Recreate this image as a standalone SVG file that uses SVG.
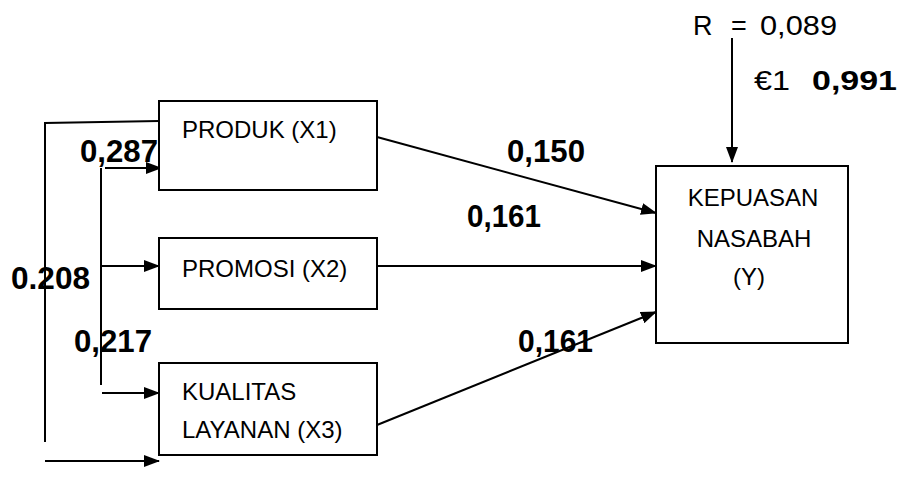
<svg xmlns="http://www.w3.org/2000/svg" width="901" height="482" viewBox="0 0 901 482">
  <style>
    .box { fill: #ffffff; stroke: #000000; stroke-width: 2; }
    .ln { fill: none; stroke: #000000; stroke-width: 2; }
    .lbl { font-family: "Liberation Sans", Arial, sans-serif; font-size: 24px; fill: #000000; }
    .coef { font-family: "Liberation Sans", Arial, sans-serif; font-size: 31px; font-weight: bold; fill: #000000; }
    .top { font-family: "Liberation Sans", Arial, sans-serif; font-size: 27px; fill: #000000; }
  </style>
  <defs>
    <marker id="arrow" markerWidth="16" markerHeight="12" refX="15" refY="6" orient="auto" markerUnits="userSpaceOnUse">
      <path d="M0,0 L16,6 L0,12 Z" fill="#000000"/>
    </marker>
  </defs>

  <!-- path coefficients and residual -->
  <g id="labels">
    <text class="top" x="693" y="35">R</text>
    <text class="top" x="731" y="35">=</text>
    <text class="top" x="760" y="35" textLength="77" lengthAdjust="spacingAndGlyphs">0,089</text>
    <text class="top" x="754" y="90" textLength="36" lengthAdjust="spacingAndGlyphs">€1</text>
    <text class="top" x="812" y="90" font-weight="bold" textLength="85" lengthAdjust="spacingAndGlyphs">0,991</text>
    <text class="coef" x="80" y="162" textLength="78" lengthAdjust="spacingAndGlyphs">0,287</text>
    <text class="coef" x="11" y="289" textLength="79" lengthAdjust="spacingAndGlyphs">0.208</text>
    <text class="coef" x="74" y="352" textLength="78" lengthAdjust="spacingAndGlyphs">0,217</text>
    <text class="coef" x="507" y="162" textLength="78" lengthAdjust="spacingAndGlyphs">0,150</text>
    <text class="coef" x="467" y="227" textLength="74" lengthAdjust="spacingAndGlyphs">0,161</text>
    <text class="coef" x="518" y="352" textLength="75" lengthAdjust="spacingAndGlyphs">0,161</text>
  </g>

  <!-- connectors -->
  <g id="connectors">
    <!-- outer correlation bracket -->
    <polyline class="ln" points="159,121 45,123 45,442"/>
    <line class="ln" x1="45" y1="461" x2="159" y2="461" marker-end="url(#arrow)"/>
    <!-- inner correlation bracket -->
    <line class="ln" x1="101" y1="168" x2="101" y2="385"/>
    <line class="ln" x1="105" y1="168" x2="161" y2="168" marker-end="url(#arrow)"/>
    <line class="ln" x1="101" y1="266" x2="159" y2="266" marker-end="url(#arrow)"/>
    <line class="ln" x1="102" y1="393" x2="159" y2="393" marker-end="url(#arrow)"/>
    <!-- paths to Y -->
    <line class="ln" x1="377" y1="137" x2="656" y2="213" marker-end="url(#arrow)"/>
    <line class="ln" x1="377" y1="266" x2="656" y2="266" marker-end="url(#arrow)"/>
    <line class="ln" x1="377" y1="425" x2="656" y2="312" marker-end="url(#arrow)"/>
    <!-- residual -->
    <line class="ln" x1="732" y1="38" x2="732" y2="162" marker-end="url(#arrow)"/>
  </g>

  <g id="x1">
    <rect class="box" x="159" y="101" width="218" height="89"/>
    <text class="lbl" x="182" y="138">PRODUK (X1)</text>
  </g>
  <g id="x2">
    <rect class="box" x="159" y="238" width="218" height="71"/>
    <text class="lbl" x="182" y="277">PROMOSI (X2)</text>
  </g>
  <g id="x3">
    <rect class="box" x="159" y="363" width="218" height="92"/>
    <text class="lbl" x="182" y="400">KUALITAS</text>
    <text class="lbl" x="182" y="438">LAYANAN (X3)</text>
  </g>
  <g id="y">
    <rect class="box" x="656" y="166" width="192" height="177"/>
    <text class="lbl" x="753" y="206" text-anchor="middle">KEPUASAN</text>
    <text class="lbl" x="754" y="247" text-anchor="middle">NASABAH</text>
    <text class="lbl" x="749" y="285" text-anchor="middle">(Y)</text>
  </g>
</svg>
